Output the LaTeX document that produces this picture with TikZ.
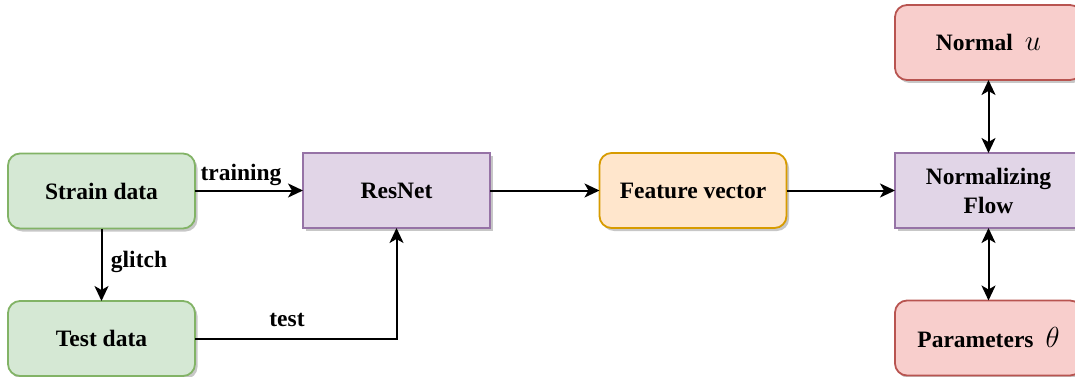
\RequirePackage{fix-cm}
\documentclass[tikz,border=0pt]{standalone}
\usepackage{fontspec}
\setmainfont{Liberation Serif}
\usetikzlibrary{arrows.meta,shadows}
\definecolor{gfill}{HTML}{D5E8D4}\definecolor{gdraw}{HTML}{82B366}
\definecolor{pfill}{HTML}{E1D5E7}\definecolor{pdraw}{HTML}{9673A6}
\definecolor{ofill}{HTML}{FFE6CC}\definecolor{odraw}{HTML}{D79B00}
\definecolor{rfill}{HTML}{F8CECC}\definecolor{rdraw}{HTML}{B85450}
\newcommand{\bigmath}[1]{{\fontsize{29}{30}\selectfont$#1$}}
\tikzset{
  box/.style={minimum width=187pt, minimum height=75pt, line width=1.8pt, outer sep=0pt,
    align=center, font=\fontsize{23.5}{29}\selectfont\bfseries,
    drop shadow={shadow xshift=2.5pt, shadow yshift=-3pt, opacity=0.22, fill=black}},
  rbox/.style={box, rounded corners=12pt},
  greenbox/.style={rbox, fill=gfill, draw=gdraw},
  purplebox/.style={box, fill=pfill, draw=pdraw},
  orangebox/.style={rbox, fill=ofill, draw=odraw},
  redbox/.style={rbox, fill=rfill, draw=rdraw},
  tip/.tip={Stealth[length=15pt,width=14pt,inset=4pt]},
  conn/.style={line width=2pt, -tip},
  biconn/.style={line width=2pt, tip-tip},
  lbl/.style={font=\fontsize{23.5}{29}\selectfont\bfseries, inner sep=0pt}
}
\begin{document}
\begin{tikzpicture}[x=1pt,y=-1pt]
\useasboundingbox (0,0) rectangle (1075,377);
\node[greenbox] (strain) at (101.5,191) {Strain data};
\node[greenbox] (test) at (101.5,338.5) {Test data};
\node[purplebox] (resnet) at (396.5,190.5) {ResNet};
\node[orangebox] (feat) at (693,190.5) {Feature vector};
\node[purplebox] (nf) at (988.5,190.5) {Normalizing\\Flow};
\node[redbox] (normal) at (988.5,42.5) {Normal\hspace{12pt}\bigmath{u}};
\node[redbox] (params) at (988.5,338) {Parameters\hspace{12pt}\bigmath{\theta}};
\coordinate (bend) at (resnet.south |- test.east);
\draw[conn] (strain.east |- resnet.west) -- (resnet.west);
\draw[conn] (strain.south) -- (test.north);
\draw[conn] (test.east) -- (bend) -- (resnet.south);
\draw[conn] (resnet.east) -- (feat.west);
\draw[conn] (feat.east) -- (nf.west);
\draw[biconn] (normal.south) -- (nf.north);
\draw[biconn] (nf.south) -- (params.north);
\node[lbl] (ltrain) at (241,175) {training};
\node[lbl] (lglitch) at (139,262) {glitch};
\node[lbl] (ltest) at (287,320) {test};
\end{tikzpicture}
\end{document}
